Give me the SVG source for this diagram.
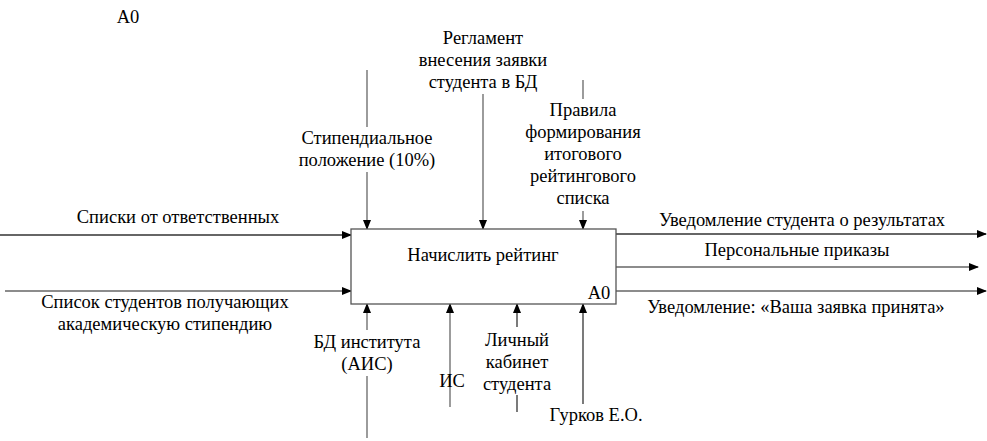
<svg xmlns="http://www.w3.org/2000/svg" width="987" height="441" viewBox="0 0 987 441">
<style>
text{font-family:"Liberation Serif","DejaVu Serif",serif;font-size:18.5px;fill:#000;text-anchor:middle}
.ln{stroke:#333;stroke-width:1.3;fill:none}
.g{stroke:#666}
</style>
<defs>
<marker id="ah" markerWidth="10" markerHeight="8" refX="9" refY="4" orient="auto" markerUnits="userSpaceOnUse">
<path d="M0,0 L10,4 L0,8 Z" fill="#000"/>
</marker>
</defs>
<rect width="987" height="441" fill="#fff"/>
<text x="128" y="23">A0</text>
<g id="connectors">
<line class="ln g" x1="367" y1="70" x2="367" y2="127"/>
<line class="ln g" x1="367" y1="172" x2="367" y2="229" marker-end="url(#ah)"/>
<line class="ln g" x1="483" y1="94" x2="483" y2="229" marker-end="url(#ah)"/>
<line class="ln g" x1="583" y1="80" x2="583" y2="99"/>
<line class="ln g" x1="583" y1="211" x2="583" y2="229" marker-end="url(#ah)"/>
<line class="ln" x1="0" y1="235" x2="351" y2="235" marker-end="url(#ah)"/>
<line class="ln g" x1="5" y1="291" x2="351" y2="291" marker-end="url(#ah)"/>
<line class="ln" x1="616" y1="234" x2="986" y2="234" marker-end="url(#ah)"/>
<line class="ln g" x1="616" y1="267" x2="978" y2="267" marker-end="url(#ah)"/>
<line class="ln g" x1="616" y1="291" x2="986" y2="291" marker-end="url(#ah)"/>
<line class="ln g" x1="367" y1="330" x2="367" y2="304" marker-end="url(#ah)"/>
<line class="ln g" x1="367" y1="376" x2="367" y2="438"/>
<line class="ln g" x1="450" y1="407" x2="450" y2="304" marker-end="url(#ah)"/>
<line class="ln" x1="517" y1="327" x2="517" y2="304" marker-end="url(#ah)"/>
<line class="ln" x1="517" y1="395" x2="517" y2="412"/>
<line class="ln" x1="583" y1="404" x2="583" y2="304" marker-end="url(#ah)"/>
</g>
<g id="A0">
<rect x="351" y="229" width="265" height="75" fill="#fff" stroke="#555" stroke-width="1.3"/>
<text x="483" y="261">Начислить рейтинг</text>
<text x="599" y="299">A0</text>
</g>
<g id="labels">
<text x="367" y="144">Стипендиальное</text>
<text x="367" y="166">положение (10%)</text>
<text x="483" y="44">Регламент</text>
<text x="483" y="66">внесения заявки</text>
<text x="483" y="88">студента в БД</text>
<text x="583" y="116">Правила</text>
<text x="583" y="138">формирования</text>
<text x="583" y="160">итогового</text>
<text x="583" y="182">рейтингового</text>
<text x="583" y="204">списка</text>
<text x="178" y="223">Списки от ответственных</text>
<text x="165" y="308">Список студентов получающих</text>
<text x="165" y="330">академическую стипендию</text>
<text x="802" y="226">Уведомление студента о результатах</text>
<text x="797" y="256">Персональные приказы</text>
<text x="796" y="313">Уведомление: «Ваша заявка принята»</text>
<text x="367" y="348">БД института</text>
<text x="367" y="370">(АИС)</text>
<text x="452" y="387">ИС</text>
<text x="517" y="346">Личный</text>
<text x="517" y="368">кабинет</text>
<text x="517" y="390">студента</text>
<text x="596" y="421">Гурков Е.О.</text>
</g>
</svg>
